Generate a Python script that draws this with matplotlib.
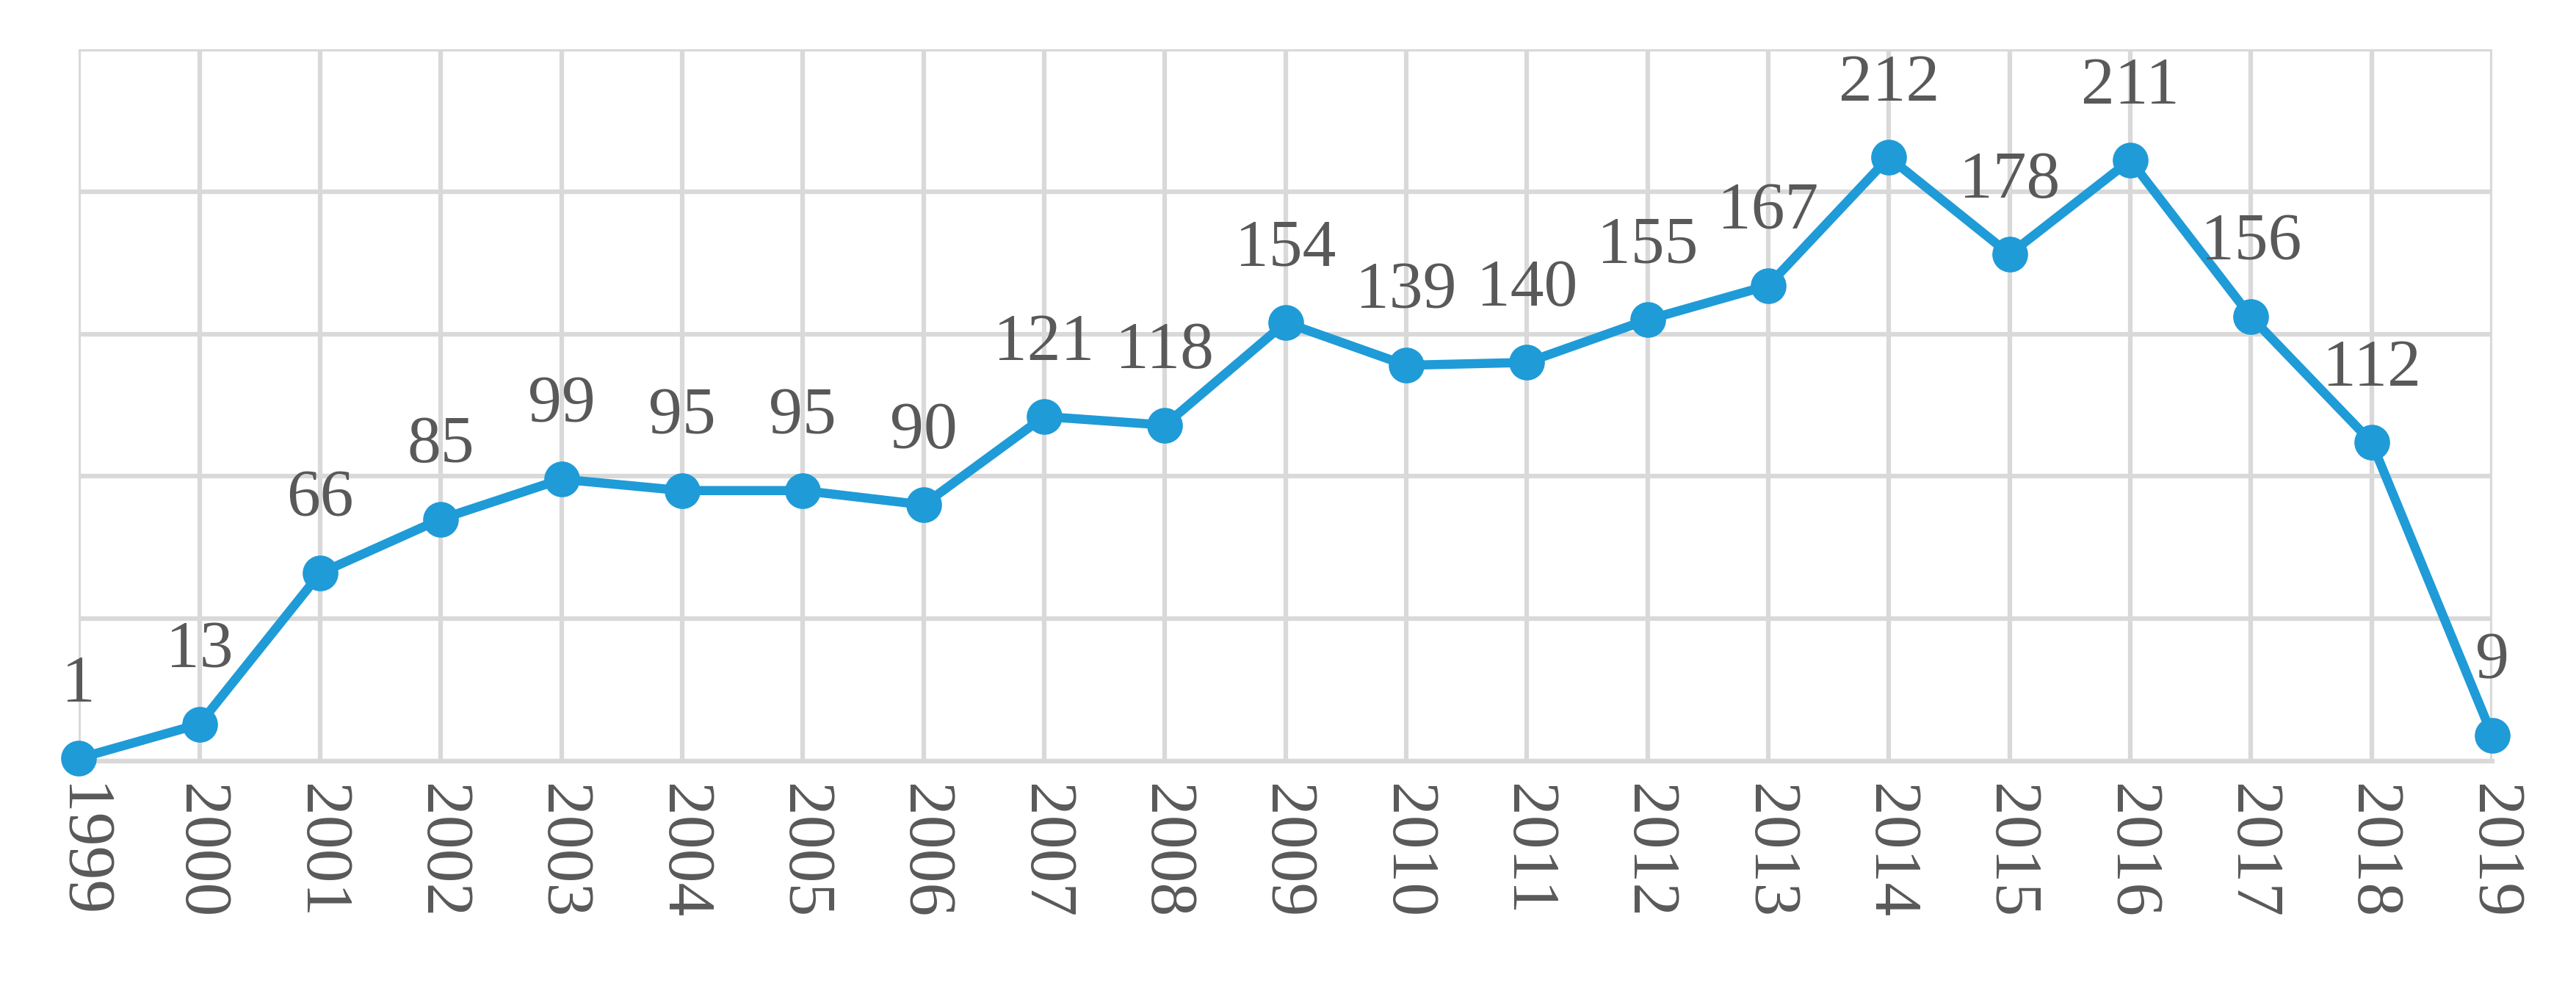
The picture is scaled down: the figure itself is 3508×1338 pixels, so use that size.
import matplotlib
matplotlib.use('Agg')
import matplotlib.pyplot as plt

years = list(range(1999, 2020))
counts = [1, 13, 66, 85, 99, 95, 95, 90, 121, 118, 154, 139, 140, 155, 167, 212, 178, 211, 156, 112, 9]

plt.rcParams['font.family'] = ['Liberation Serif', 'DejaVu Serif']
txt = '#595959'
blue = '#1F9BD7'

fig = plt.figure(figsize=(35.08, 13.38), dpi=100)
ax = fig.add_axes([0.0306, 0.2257, 0.9369, 0.7243])

ax.plot(years, counts, color=blue, lw=9, marker='o', markersize=34, zorder=3, clip_on=False)
for x, y in zip(years, counts):
    ax.annotate(str(y), (x, y), xytext=(0, 42), textcoords='offset points',
                ha='center', va='bottom', fontsize=66, color=txt)

ax.set_xlim(1999, 2019)
ax.set_ylim(0, 250)
ax.set_xticks(years)
ax.set_xticklabels([str(y) for y in years], rotation=270, fontsize=66, color=txt)
ax.set_yticks(range(0, 251, 50))
ax.set_yticklabels([])
ax.tick_params(axis='y', length=0)
ax.tick_params(axis='x', length=0, pad=22)
ax.grid(True, color='#D9D9D9', lw=4.5)
for s in ['top', 'right', 'left']:
    ax.spines[s].set_visible(False)
ax.spines['bottom'].set_color('#D9D9D9')
ax.spines['bottom'].set_linewidth(4.5)
ax.set_axisbelow(True)

fig.savefig('out.png', dpi=100)
